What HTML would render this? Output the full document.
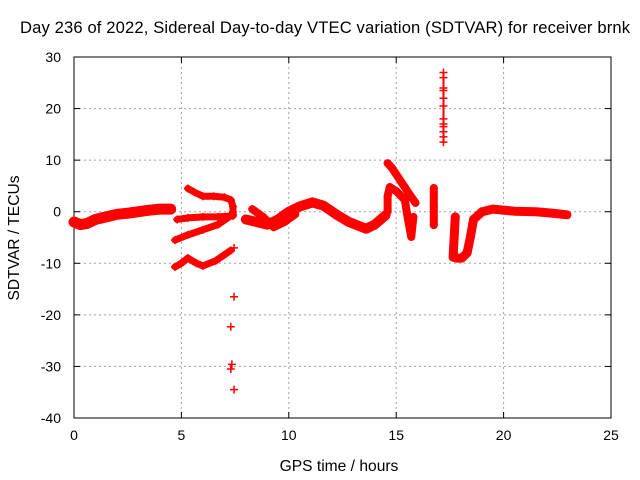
<!DOCTYPE html>
<html><head><meta charset="utf-8"><style>
body{margin:0;background:#fff;}
svg{display:block;font-family:"Liberation Sans",sans-serif;}
</style></head><body>
<svg id="chart" width="640" height="480">
<rect width="640" height="480" fill="#fff"/>
<text x="325" y="33" font-size="16.6" text-anchor="middle" textLength="610">Day 236 of 2022, Sidereal Day-to-day VTEC variation (SDTVAR) for receiver brnk</text>
<text x="339" y="471" font-size="15.6" text-anchor="middle">GPS time / hours</text>
<text transform="translate(19,238) rotate(-90)" font-size="15.6" text-anchor="middle">SDTVAR / TECUs</text>
<g id="grid"></g>
<g id="axes"></g>
<g id="marks"></g>
</svg>
<script>
const xTicks=[0,5,10,15,20,25];
const yTicks=[30,20,10,0,-10,-20,-30,-40];
// tracks: hours and values
const t1h=[0,0.3,0.6,1,1.5,2,2.5,3,3.5,4,4.5];
const t1v=[-2,-2.5,-2.3,-1.5,-1,-0.5,-0.3,0,0.3,0.5,0.5];
const t2h=[5.3,5.6,6,6.5,7,7.3,7.4,7.4];
const t2v=[4.5,3.8,3,3,2.8,2.3,1,0];
const t3h=[4.8,5.3,6,6.7,7.4];
const t3v=[-1.5,-1.2,-1,-1,-0.8];
const t4h=[4.7,5.3,6,6.7,7.4];
const t4v=[-5.5,-4.5,-3.5,-2.5,-0.5];
const t5h=[4.7,5.0,5.3,5.7,6.0,6.6,7.3];
const t5v=[-10.7,-10,-9,-10,-10.5,-9.5,-7.5];
const o1h=[7.45,7.45,7.3,7.35,7.3,7.45];
const o1v=[-7,-16.5,-22.3,-29.6,-30.5,-34.5];
const t6h=[8.0,8.5,9.0,9.5,10,10.5,11.1,11.6,12.2,12.8,13.6,14.0,14.5];
const t6v=[-1.5,-2,-2.5,-1.5,0,1,1.8,1.2,-0.5,-2,-3.3,-2.5,-0.7];
const t7h=[8.3,8.8,9.3,9.8,10.3];
const t7v=[0.5,-1,-3,-2,-0.5];
const t8h=[14.6,14.8,15.2,15.6,15.9];
const t8v=[9.4,8.5,6,3.5,1.7];
const t9h=[14.6,14.6,14.7,15.0,15.4,15.55,15.7,15.8];
const t9v=[0,3,4.8,4,2.3,-1.5,-4.9,-1];
const t10h=[16.75,16.75,16.75];
const t10v=[4.6,1,-2.6];
const t11h=[17.2,17.2,17.2,17.2,17.2,17.2,17.2,17.2,17.2,17.2,17.2,17.2];
const t11v=[27,26,24,23.5,22,20.5,18,17,16.5,15.5,14.5,13.5];
const t12h=[17.75,17.65,17.8,18.05,18.3,18.45,18.6,19.0,19.5,20.5,21.5,22.3,22.95];
const t12v=[-1,-8.8,-9,-9,-8,-5,-1.5,0,0.5,0.1,0,-0.3,-0.6];
const tracksH=[t1h,t2h,t3h,t4h,t5h,t6h,t7h,t8h,t9h,t10h,t11h,t12h];
const tracksV=[t1v,t2v,t3v,t4v,t5v,t6v,t7v,t8v,t9v,t10v,t11v,t12v];
const widths=[11,7,7,7,7,10,8,8,8,8,2,9];

const X0=74,X1=611,Y0=57,Y1=418;
const sx=h=>X0+(h-0)/25*(X1-X0);
const sy=v=>Y0+(30-v)/70*(Y1-Y0);
const NS="http://www.w3.org/2000/svg";
const grid=document.getElementById('grid'),axes=document.getElementById('axes'),marks=document.getElementById('marks');
function mk(tag,attrs,parent){const e=document.createElementNS(NS,tag);for(const k in attrs)e.setAttribute(k,attrs[k]);parent.appendChild(e);return e;}
xTicks.forEach(t=>{
  const x=sx(t);
  if(t>0&&t<25){const g=mk('line',{x1:x,y1:Y0,x2:x,y2:Y1,stroke:'#a0a0a0','stroke-dasharray':'2,3'},grid);
  
  }
  mk('line',{x1:x,y1:Y1,x2:x,y2:Y1-6,stroke:'#000'},axes);
  mk('line',{x1:x,y1:Y0,x2:x,y2:Y0+6,stroke:'#000'},axes);
  const l=mk('text',{x:x,y:Y1+22,'font-size':14,'text-anchor':'middle'},axes);l.textContent=t;
  
  
});
yTicks.forEach(t=>{
  const y=sy(t);
  if(t<30&&t>-40){const g=mk('line',{x1:X0,y1:y,x2:X1,y2:y,stroke:'#a0a0a0','stroke-dasharray':'2,3'},grid);
  
  }
  mk('line',{x1:X0,y1:y,x2:X0+6,y2:y,stroke:'#000'},axes);
  mk('line',{x1:X1,y1:y,x2:X1-6,y2:y,stroke:'#000'},axes);
  const l=mk('text',{x:X0-13,y:y+5,'font-size':14,'text-anchor':'end'},axes);l.textContent=t;
  
  
});
mk('rect',{x:X0,y:Y0,width:X1-X0,height:Y1-Y0,fill:'none',stroke:'#000'},axes);
tracksH.forEach((hs,i)=>{
  const vs=tracksV[i];
  const pts=hs.map((h,j)=>sx(h)+','+sy(vs[j])).join(' ');
  const p=mk('polyline',{points:pts,fill:'none',stroke:'#f00','stroke-width':widths[i],'stroke-linejoin':'round','stroke-linecap':'round'},marks);
  
  
  hs.forEach((h,j)=>{
    const x=sx(h),y=sy(vs[j]);
    const m=mk('path',{d:`M${x-4},${y}H${x+4}M${x},${y-4}V${y+4}`,stroke:'#f00','stroke-width':1.5},marks);
    
    
  });
});
o1h.forEach((h,j)=>{
  const x=sx(h),y=sy(o1v[j]);
  const m=mk('path',{d:`M${x-4},${y}H${x+4}M${x},${y-4}V${y+4}`,stroke:'#f00','stroke-width':1.5},marks);
  
  
});
</script>
</body></html>
